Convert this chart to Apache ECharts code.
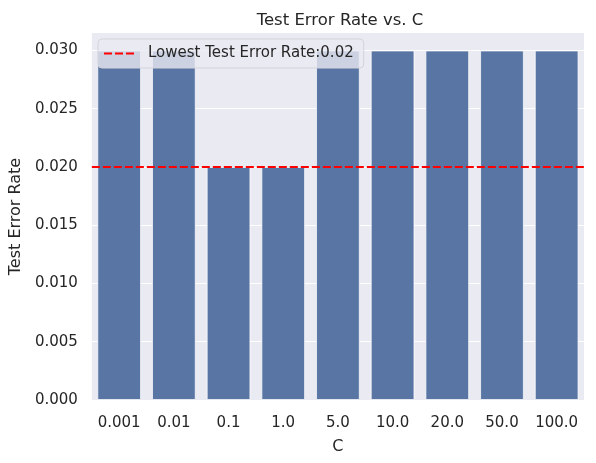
<!DOCTYPE html>
<html>
<head>
<meta charset="utf-8">
<script src="https://cdn.jsdelivr.net/npm/echarts@6/dist/echarts.min.js"></script>
<style>
  html, body { margin: 0; padding: 0; background: #fff; }
  #chart { width: 596px; height: 463px; }
</style>
</head>
<body>
<div id="chart"></div>
<script>
// C values and their test error rates
const cValues = ['0.001', '0.01', '0.1', '1.0', '5.0', '10.0', '20.0', '50.0', '100.0']
const errorRates = [0.03, 0.03, 0.02, 0.02, 0.03, 0.03, 0.03, 0.03, 0.03]
const lowestRate = 0.02
const lineName = 'Lowest Test Error Rate:0.02'

const chart = echarts.init(document.getElementById('chart'))
const font = 'DejaVu Sans'
const ink = '#262626'

const option = {
  animation: false,
  textStyle: { fontFamily: font, color: ink },
  title: {
    text: 'Test Error Rate vs. C',
    left: 335,
    textAlign: 'center',
    top: 7,
    textStyle: { fontFamily: font, fontSize: 16.5, fontWeight: 'normal', color: ink }
  },
  legend: {
    // dashed red icon drawn as three short dashes
    data: [{ name: lineName, icon: 'path://M0,0h8v2h-8z M11,0h8v2h-8z M22,0h8v2h-8z' }],
    left: 98,
    top: 39,
    padding: [7, 10, 7, 6],
    itemWidth: 30,
    itemHeight: 2,
    backgroundColor: 'rgba(234,234,242,0.8)',
    borderColor: '#d3d3dc',
    borderWidth: 1,
    borderRadius: 4,
    textStyle: { fontFamily: font, fontSize: 15, color: ink, padding: [0, 0, 0, 9] }
  },
  grid: {
    show: true,
    left: 91,
    right: 12,
    top: 33,
    bottom: 63,
    backgroundColor: '#eaeaf2',
    borderWidth: 0
  },
  xAxis: {
    type: 'category',
    data: cValues,
    name: 'C',
    nameLocation: 'middle',
    nameGap: 39,
    nameTextStyle: { fontFamily: font, fontSize: 16, color: ink },
    axisLine: { show: false },
    axisTick: { show: false },
    axisLabel: { interval: 0, fontFamily: font, fontSize: 15, color: ink, margin: 16 },
    splitLine: { show: false }
  },
  yAxis: {
    type: 'value',
    min: 0,
    max: 0.0315,
    interval: 0.005,
    name: 'Test Error Rate',
    nameLocation: 'middle',
    nameGap: 64,
    nameTextStyle: { fontFamily: font, fontSize: 16, color: ink },
    axisLine: { show: false },
    axisTick: { show: false },
    axisLabel: {
      fontFamily: font,
      fontSize: 15,
      color: ink,
      margin: 14,
      showMaxLabel: false,
      formatter: v => v.toFixed(3)
    },
    splitLine: { show: true, showMaxLine: false, lineStyle: { color: '#ffffff', width: 1.2 } }
  },
  series: [
    {
      name: 'rate',
      type: 'bar',
      data: errorRates,
      barCategoryGap: '20%',
      itemStyle: { color: '#5975a4', borderColor: 'rgba(255,255,255,0.7)', borderWidth: 1 },
      markLine: {
        silent: true,
        symbol: 'none',
        label: { show: false },
        lineStyle: { color: '#ff0000', type: [8, 3], width: 2 },
        data: [{ yAxis: lowestRate }]
      }
    },
    {
      name: lineName,
      type: 'line',
      data: [],
      symbol: 'none',
      itemStyle: { color: '#ff0000' },
      lineStyle: { color: '#ff0000', type: [8, 3], width: 2 }
    }
  ]
}

chart.setOption(option)
</script>
</body>
</html>
